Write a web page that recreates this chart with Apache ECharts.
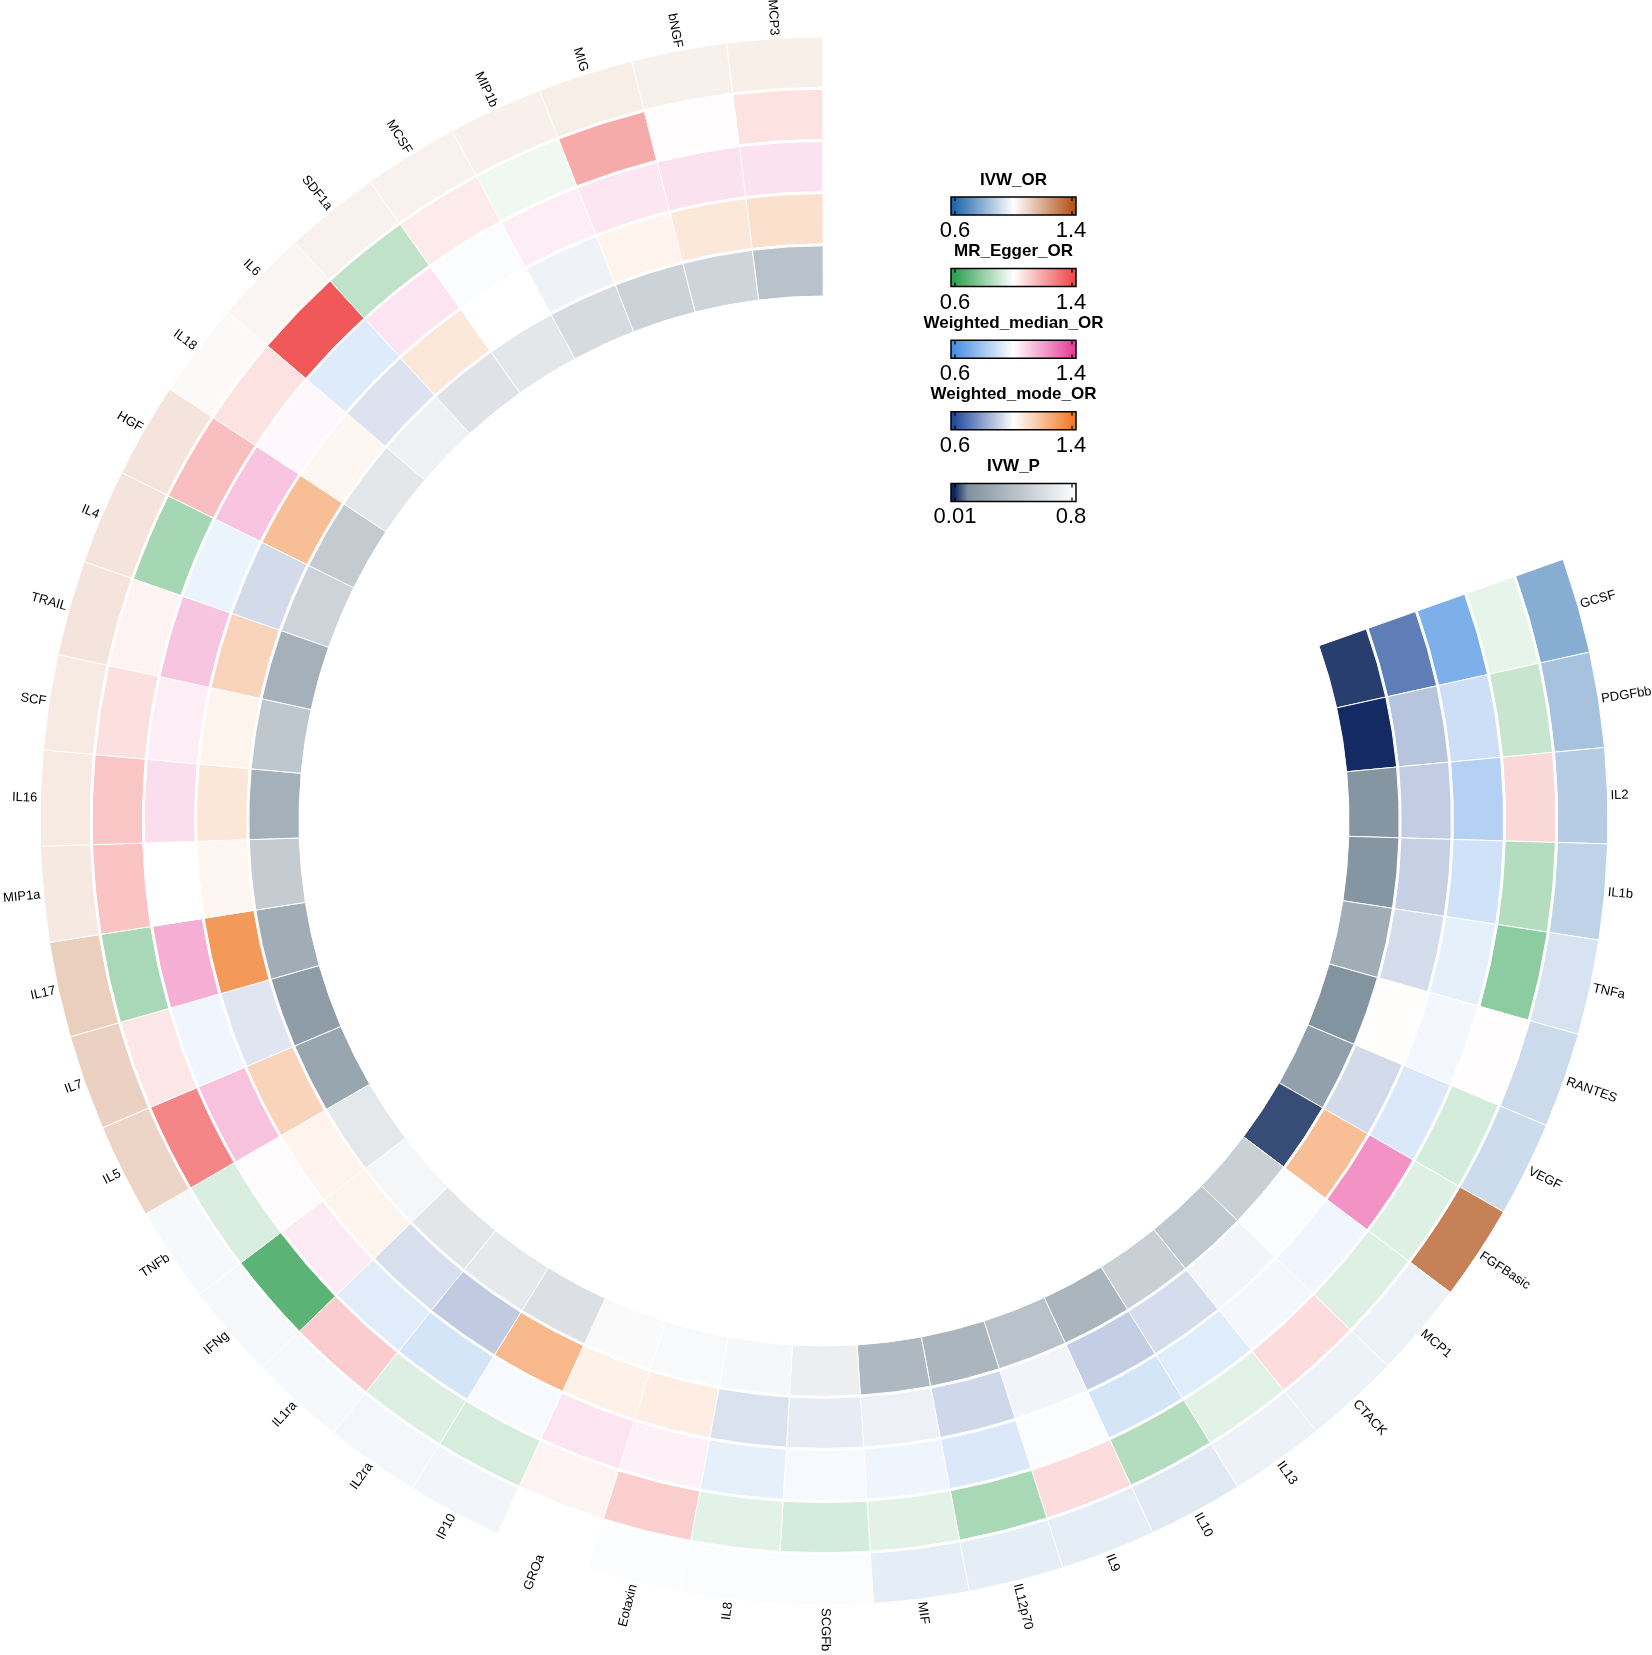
<!DOCTYPE html>
<html><head><meta charset="utf-8">
<script src="https://cdn.jsdelivr.net/npm/echarts@6/dist/echarts.min.js"></script>
<style>html,body{margin:0;padding:0;background:#fff}#c{width:1652px;height:1655px}</style>
</head><body><div id="c"></div>
<script>
// ---------------- data ----------------
const cytokines = ['GCSF','PDGFbb','IL2','IL1b','TNFa','RANTES','VEGF','FGFBasic','MCP1','CTACK','IL13','IL10','IL9','IL12p70','MIF','SCGFb','IL8','Eotaxin','GROa','IP10','IL2ra','IL1ra','IFNg','TNFb','IL5','IL7','IL17','MIP1a','IL16','SCF','TRAIL','IL4','HGF','IL18','IL6','SDF1a','MCSF','MIP1b','MIG','bNGF','MCP3'];
const ivwOR = [0.786,0.84,0.868,0.884,0.928,0.906,0.908,1.298,0.965,0.966,0.966,0.946,0.953,0.953,0.953,0.993,0.993,0.994,1.0,0.976,0.979,0.984,0.984,0.984,1.100,1.108,1.115,1.052,1.05,1.05,1.062,1.062,1.062,1.013,1.022,1.032,1.032,1.034,1.04,1.036,1.038];
const mrEggerOR = [0.952,0.891,1.087,0.855,0.782,1.005,0.918,0.937,0.937,1.078,0.944,0.856,1.078,0.836,0.946,0.918,0.943,1.111,1.027,0.922,0.933,1.113,0.686,0.929,1.269,1.056,0.834,1.133,1.129,1.069,1.027,0.83,1.144,1.064,1.372,0.878,1.047,0.971,1.189,1.004,1.064];
const wMedianOR = [0.712,0.887,0.834,0.896,0.945,0.976,0.918,1.228,0.965,0.976,0.929,0.907,0.989,0.918,0.962,0.98,0.945,1.029,1.054,0.98,0.907,0.931,1.042,1.008,1.128,0.967,1.17,1.0,1.069,1.036,1.121,0.956,1.124,1.017,0.925,1.056,0.989,1.038,1.052,1.063,1.061];
const wModeOR = [0.709,0.87,0.889,0.896,0.924,1.005,0.92,1.198,0.992,0.978,0.924,0.892,0.976,0.914,0.968,0.956,0.934,1.053,1.043,1.214,0.886,0.928,1.032,1.034,1.129,0.944,1.306,1.026,1.074,1.032,1.129,0.92,1.198,1.026,0.936,1.07,1.0,0.972,1.034,1.07,1.092];
const ivwP = [0.031,0.0147,0.128,0.128,0.282,0.117,0.197,0.043,0.51,0.464,0.51,0.339,0.424,0.34,0.356,0.715,0.771,0.783,0.794,0.624,0.68,0.663,0.766,0.675,0.237,0.18,0.282,0.487,0.305,0.453,0.305,0.538,0.481,0.669,0.726,0.641,0.669,0.589,0.533,0.544,0.424];
const legendTitles = ['IVW_OR','MR_Egger_OR','Weighted_median_OR','Weighted_mode_OR','IVW_P'];
const orTickLabels = ['0.6','1.4'];
const pTickLabels = ['0.01','0.8'];

// ---------------- colours ----------------
const palIVW = [[0.6,'#2166ac'],[1.0,'#ffffff'],[1.4,'#b4551c']];
const palEgger = [[0.6,'#2ea050'],[1.0,'#ffffff'],[1.4,'#ef4b4d']];
const palMedian = [[0.6,'#4a90e2'],[1.0,'#ffffff'],[1.4,'#e8409a']];
const palMode = [[0.6,'#234b9b'],[1.0,'#ffffff'],[1.4,'#f07a28']];
const palP = [[0.01,'#0d245f'],[0.1,'#80919e'],[0.8,'#fbfbfc']];

function hex2rgb(h){h=h.replace('#','');return [0,2,4].map(i=>parseInt(h.substr(i,2),16));}
function rgb2hex(c){return '#'+c.map(v=>Math.round(v).toString(16).padStart(2,'0')).join('');}
function colorAt(stops,v){
  if(v<=stops[0][0]) return stops[0][1];
  for(let i=1;i<stops.length;i++){
    if(v<=stops[i][0]){
      const t=(v-stops[i-1][0])/(stops[i][0]-stops[i-1][0]);
      const a=hex2rgb(stops[i-1][1]),b=hex2rgb(stops[i][1]);
      return rgb2hex(a.map((x,k)=>x+(b[k]-x)*t));
    }
  }
  return stops[stops.length-1][1];
}
function sampled(stops,n){
  const lo=stops[0][0],hi=stops[stops.length-1][0];const out=[];
  for(let i=0;i<n;i++) out.push(colorAt(stops,lo+(hi-lo)*i/(n-1)));
  return out;
}

// rings from inner to outer
const rings = [
  {vals: ivwP, pal: palP},
  {vals: wModeOR, pal: palMode},
  {vals: wMedianOR, pal: palMedian},
  {vals: mrEggerOR, pal: palEgger},
  {vals: ivwOR, pal: palIVW}
];

// ---------------- layout ----------------
const CX = 824, CY = 821, R_OUT = 784, R_IN = 525, RING_GAP = 2;
const RING_W = (R_OUT - R_IN - RING_GAP*4)/5;
const GAP_SLOTS = 10;
const LABEL_R = 787;
const angleCats = cytokines.concat(Array.from({length:GAP_SLOTS},(_,i)=>'gap'+i));

const series = [];
const visualMaps = [];
const base = {type:'bar', coordinateSystem:'polar', stack:'rings', barCategoryGap:'0%', silent:true, encode:{radius:0, angle:1}, animation:false};
series.push(Object.assign({}, base, {data: cytokines.map((c,i)=>[R_IN,i]), itemStyle:{color:'rgba(0,0,0,0)', borderWidth:0}}));
rings.forEach((ring,k)=>{
  if(k>0) series.push(Object.assign({}, base, {data: cytokines.map((c,i)=>[RING_GAP,i]), itemStyle:{color:'rgba(0,0,0,0)', borderWidth:0}}));
  series.push(Object.assign({}, base, {data: ring.vals.map((v,i)=>[RING_W,i,v]), itemStyle:{borderColor:'#ffffff', borderWidth:1}}));
  visualMaps.push({type:'continuous', show:false, seriesIndex: series.length-1, dimension:2,
    min: ring.pal[0][0], max: ring.pal[ring.pal.length-1][0], inRange:{color: sampled(ring.pal, 81)}});
});
// labels
series.push({
  type:'custom', coordinateSystem:'polar', silent:true, animation:false,
  encode:{radius:0, angle:1},
  data: cytokines.map((c,i)=>[LABEL_R,i]),
  renderItem: function(params, api){
    const idx = api.value(1);
    const pt = api.coord([api.value(0), idx]);
    const cs = params.coordSys;
    const dx = pt[0]-cs.cx, dy = pt[1]-cs.cy;
    const th = Math.atan2(-dy, dx);
    const right = dx >= -1;
    const rot = right ? th : th - Math.PI;
    return {type:'text', x:pt[0], y:pt[1], rotation:rot,
      style:{text: cytokines[params.dataIndex], fill:'#000', fontSize:13, fontFamily:'Liberation Sans, Arial, sans-serif',
        align: right?'left':'right', textAlign: right?'left':'right', verticalAlign:'middle', textVerticalAlign:'middle'}};
  }
});

// ---------------- legend (graphic) ----------------
const graphics = [];
const LX = 951, LW = 125, LH = 18, TICK_IN = 4;
const legendPals = [palIVW, palEgger, palMedian, palMode, palP];
legendPals.forEach((pal,k)=>{
  const ty = 180 + 71.6*k;
  const by = ty + 17;
  const f0 = TICK_IN/LW, f1 = 1 - TICK_IN/LW;
  const lo = pal[0][0], hi = pal[pal.length-1][0];
  const stops = [{offset:0, color: pal[0][1]}];
  pal.forEach(s=>stops.push({offset: f0 + (s[0]-lo)/(hi-lo)*(f1-f0), color: s[1]}));
  stops.push({offset:1, color: pal[pal.length-1][1]});
  graphics.push({type:'text', x: LX+LW/2, y: ty, style:{text: legendTitles[k], fill:'#000', font:'bold 17px "Liberation Sans", Arial, sans-serif', align:'center', textAlign:'center', verticalAlign:'middle', textVerticalAlign:'middle'}});
  graphics.push({type:'rect', shape:{x:LX, y:by, width:LW, height:LH},
    style:{fill:{type:'linear', x:0, y:0, x2:1, y2:0, colorStops:stops}, stroke:'#000', lineWidth:1.5}});
  [LX+TICK_IN, LX+LW-TICK_IN].forEach(xx=>{
    graphics.push({type:'line', shape:{x1:xx, y1:by, x2:xx, y2:by+4}, style:{stroke:'#000', lineWidth:1.2}});
    graphics.push({type:'line', shape:{x1:xx, y1:by+LH-4, x2:xx, y2:by+LH}, style:{stroke:'#000', lineWidth:1.2}});
  });
  const labs = (k===4) ? pTickLabels : orTickLabels;
  graphics.push({type:'text', x: LX+TICK_IN, y: by+34, style:{text: labs[0], fill:'#000', font:'22px "Liberation Sans", Arial, sans-serif', align:'center', textAlign:'center', verticalAlign:'middle', textVerticalAlign:'middle'}});
  graphics.push({type:'text', x: LX+LW-TICK_IN-1, y: by+34, style:{text: labs[1], fill:'#000', font:'22px "Liberation Sans", Arial, sans-serif', align:'center', textAlign:'center', verticalAlign:'middle', textVerticalAlign:'middle'}});
});

const chart = echarts.init(document.getElementById('c'), null, {renderer:'canvas'});
chart.setOption({
  backgroundColor:'#ffffff',
  animation:false,
  polar:{center:[CX,CY], radius:[0,R_OUT]},
  angleAxis:{type:'category', data: angleCats, startAngle: 19.5, clockwise:true, boundaryGap:true,
    axisLine:{show:false}, axisTick:{show:false}, axisLabel:{show:false}, splitLine:{show:false}, splitArea:{show:false}},
  radiusAxis:{type:'value', min:0, max:R_OUT, axisLine:{show:false}, axisTick:{show:false}, axisLabel:{show:false}, splitLine:{show:false}},
  visualMap: visualMaps,
  series: series,
  graphic: {elements: graphics}
});
</script></body></html>
